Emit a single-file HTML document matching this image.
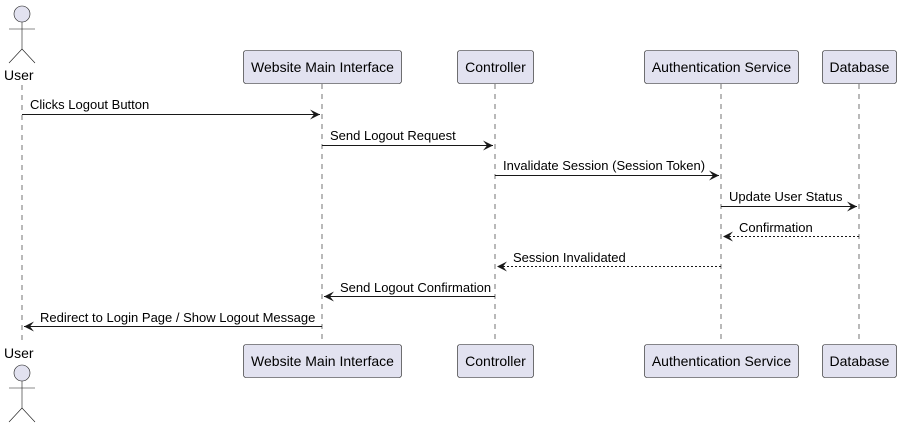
<!DOCTYPE html>
<html><head><meta charset="utf-8"><style>
html,body{margin:0;padding:0;background:#fff;}
svg text{font-family:"Liberation Sans",Arial,sans-serif;font-size:14px;fill:#000;}
</style></head><body>
<svg width="902" height="426" xmlns="http://www.w3.org/2000/svg">
<defs>
<marker id="a" viewBox="0 0 10 10" refX="10" refY="5" markerWidth="10" markerHeight="10" markerUnits="userSpaceOnUse" orient="auto"><path d="M0,0 L10,5 L0,10 L4,5 Z" fill="#181818"/></marker>
</defs>
<g stroke="#181818" stroke-width="0.6" stroke-dasharray="5,5">
<line x1="22" y1="85" x2="22" y2="345"/>
<line x1="322" y1="84" x2="322" y2="344"/>
<line x1="495" y1="84" x2="495" y2="344"/>
<line x1="721" y1="84" x2="721" y2="344"/>
<line x1="859" y1="84" x2="859" y2="344"/>
</g>
<g fill="#E2E2F0" stroke="#181818" stroke-width="0.6">
<circle cx="22" cy="14" r="8"/>
<line x1="22" y1="22" x2="22" y2="49"/><line x1="9" y1="29" x2="35" y2="29"/>
<line x1="22" y1="49" x2="9" y2="63"/><line x1="22" y1="49" x2="35" y2="63"/>
<circle cx="22" cy="373" r="8"/>
<line x1="22" y1="381" x2="22" y2="408"/><line x1="9" y1="388" x2="35" y2="388"/>
<line x1="22" y1="408" x2="9" y2="422"/><line x1="22" y1="408" x2="35" y2="422"/>
</g>
<text x="4" y="80">User</text>
<text x="4" y="358">User</text>
<g fill="#E2E2F0" stroke="#181818" stroke-width="0.6">
<rect x="243.5" y="50.5" width="158" height="33" rx="2.5"/>
<rect x="457.5" y="50.5" width="76" height="33" rx="2.5"/>
<rect x="644.5" y="50.5" width="154" height="33" rx="2.5"/>
<rect x="822.5" y="50.5" width="74" height="33" rx="2.5"/>
<rect x="243.5" y="344.5" width="158" height="33" rx="2.5"/>
<rect x="457.5" y="344.5" width="76" height="33" rx="2.5"/>
<rect x="644.5" y="344.5" width="154" height="33" rx="2.5"/>
<rect x="822.5" y="344.5" width="74" height="33" rx="2.5"/>
</g>
<g text-anchor="middle">
<text x="322.5" y="72">Website Main Interface</text>
<text x="495.5" y="72">Controller</text>
<text x="721.5" y="72">Authentication Service</text>
<text x="859.5" y="72">Database</text>
<text x="322.5" y="366">Website Main Interface</text>
<text x="495.5" y="366">Controller</text>
<text x="721.5" y="366">Authentication Service</text>
<text x="859.5" y="366">Database</text>
</g>
<g stroke="#181818" stroke-width="1" fill="none">
<line x1="22" y1="114.5" x2="320" y2="114.5" marker-end="url(#a)"/>
<line x1="322" y1="145.5" x2="493" y2="145.5" marker-end="url(#a)"/>
<line x1="495" y1="175.5" x2="719" y2="175.5" marker-end="url(#a)"/>
<line x1="721" y1="206.5" x2="857" y2="206.5" marker-end="url(#a)"/>
<line x1="859" y1="236.5" x2="723" y2="236.5" stroke-dasharray="2,2" marker-end="url(#a)"/>
<line x1="721" y1="266.5" x2="497" y2="266.5" stroke-dasharray="2,2" marker-end="url(#a)"/>
<line x1="495" y1="296.5" x2="324" y2="296.5" marker-end="url(#a)"/>
<line x1="322" y1="326.5" x2="24" y2="326.5" marker-end="url(#a)"/>
</g>
<g>
<text x="30" y="109" style="font-size:13px">Clicks Logout Button</text>
<text x="330" y="140" style="font-size:13px">Send Logout Request</text>
<text x="503" y="170" style="font-size:13px">Invalidate Session (Session Token)</text>
<text x="729" y="201" style="font-size:13px">Update User Status</text>
<text x="739" y="232" style="font-size:13px">Confirmation</text>
<text x="513" y="262" style="font-size:13px">Session Invalidated</text>
<text x="340" y="292" style="font-size:13px">Send Logout Confirmation</text>
<text x="40" y="322" style="font-size:13px">Redirect to Login Page / Show Logout Message</text>
</g>
</svg>
</body></html>
